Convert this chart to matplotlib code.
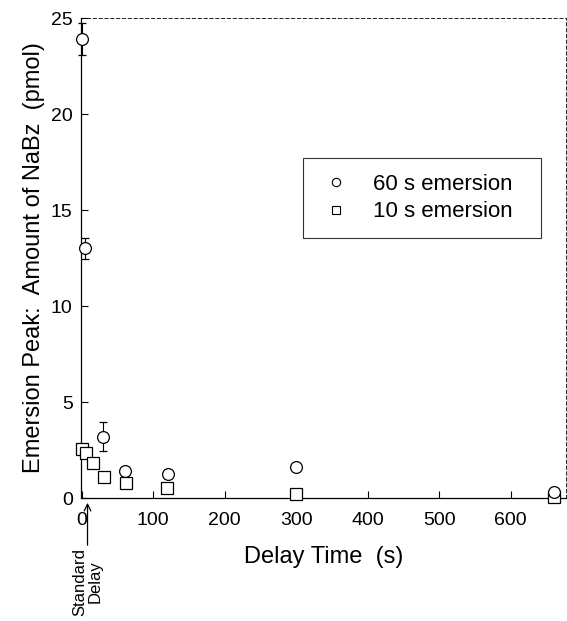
import matplotlib
matplotlib.use('Agg')
import matplotlib.pyplot as plt
from matplotlib.lines import Line2D

# 60 s emersion (circles)
delay_60 = [0, 4, 30, 60, 120, 300, 660]
amount_60 = [23.9, 13.0, 3.2, 1.4, 1.25, 1.6, 0.3]
err_60 = [0.85, 0.55, 0.75, 0.0, 0.0, 0.0, 0.0]

# 10 s emersion (squares)
delay_10 = [0, 6, 16, 31, 62, 119, 300, 660]
amount_10 = [2.55, 2.35, 1.8, 1.1, 0.8, 0.5, 0.2, 0.05]

labels = ['60 s emersion', '10 s emersion']

plt.rcParams['font.family'] = ['Liberation Sans', 'DejaVu Sans']

fig = plt.figure(figsize=(5.67, 6.21), dpi=100)
ax = fig.add_axes([0.143, 0.198, 0.855, 0.773])

ax.errorbar(delay_60, amount_60, yerr=err_60, fmt='o', ms=8.5, mfc='white',
            mec='black', mew=0.9, ecolor='black', elinewidth=0.8, capsize=3,
            zorder=3, clip_on=False)
ax.plot(delay_10, amount_10, 's', ms=8.5, mfc='white', mec='black', mew=0.9,
        zorder=3, clip_on=False)

ax.set_xlim(-1, 677)
ax.set_ylim(0, 25)
ax.set_xticks([0, 100, 200, 300, 400, 500, 600])
ax.set_yticks([0, 5, 10, 15, 20, 25])
ax.tick_params(direction='in', length=5, labelsize=14)
ax.tick_params(axis='x', pad=10)
ax.tick_params(axis='y', pad=6)
for s in ax.spines.values():
    s.set_linewidth(0.9)
ax.spines['top'].set_linestyle((0, (4, 3)))
ax.spines['top'].set_linewidth(0.6)
ax.spines['right'].set_linestyle((0, (4, 3)))
ax.spines['right'].set_linewidth(0.6)

ax.set_xlabel('Delay Time  (s)', fontsize=17, labelpad=12)
ax.set_ylabel('Emersion Peak:  Amount of NaBz  (pmol)', fontsize=17, labelpad=4)

# legend with smaller open markers, no error bar in the key
handles = [
    Line2D([], [], ls='none', marker='o', ms=6, mfc='white', mec='black', mew=0.8),
    Line2D([], [], ls='none', marker='s', ms=6, mfc='white', mec='black', mew=0.8),
]
leg = ax.legend(handles, [l + '  ' for l in labels], loc='upper left',
                bbox_to_anchor=(0.458, 0.708), fontsize=16, frameon=True,
                fancybox=False, edgecolor='black', handlelength=1.6,
                handletextpad=0.85, borderpad=0.7, labelspacing=0.3,
                borderaxespad=0)
leg.get_frame().set_linewidth(0.8)

ax.annotate('Standard\nDelay', xy=(8, -0.25), xytext=(8, -2.6),
            xycoords='data', textcoords='data', rotation=90,
            ha='center', va='top', fontsize=12, linespacing=1.0,
            annotation_clip=False,
            arrowprops=dict(arrowstyle='->', color='black', lw=0.9,
                            shrinkA=0, shrinkB=0))

fig.savefig('out.png', dpi=100)
